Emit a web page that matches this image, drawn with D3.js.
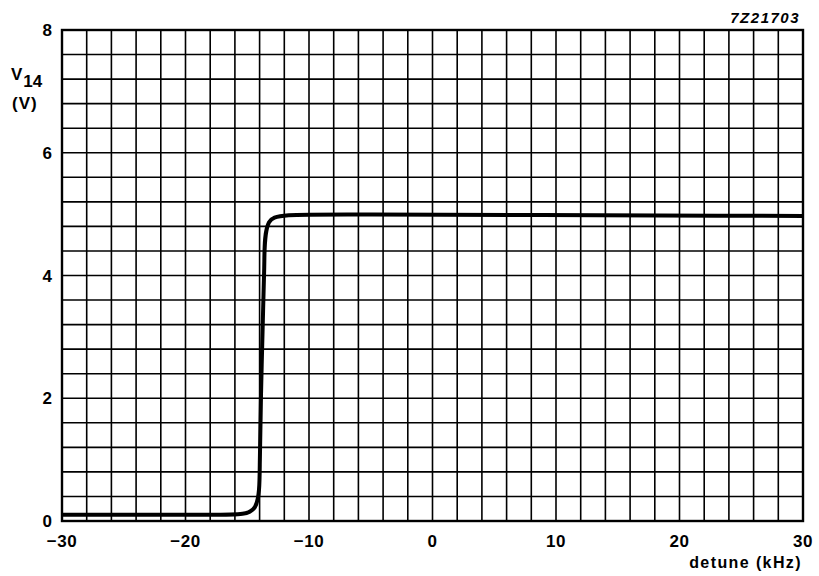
<!DOCTYPE html>
<html><head><meta charset="utf-8">
<script src="https://cdn.jsdelivr.net/npm/d3@7"></script>
<style>body{margin:0;background:#fff}svg{display:block}</style>
</head><body>
<svg id="c" width="819" height="576"></svg>
<script>
const xTicks = [-30, -20, -10, 0, 10, 20, 30];
const yTicks = [0, 2, 4, 6, 8];
const xGrid = d3.range(-30, 30.001, 2);
const yGrid = d3.range(0, 8.001, 0.4);
// curve control points (detune kHz, V14 volts)
const detune = [-30, -16.2, -14.0, -14.0, -13.9, -13.7, -13.6, -13.6, -11.4, 30];
const v14    = [0.1, 0.1, 0.1, 0.9, 2.0, 3.6, 4.2, 5.0, 5.0, 4.97];

const svg = d3.select("#c");
const m = {l: 62, r: 803, t: 30, b: 521};
const x = d3.scaleLinear().domain([-30, 30]).range([m.l, m.r]);
const y = d3.scaleLinear().domain([0, 8]).range([m.b, m.t]);
const font = "'Liberation Sans', Arial, sans-serif";

const g = svg.append("g");
g.selectAll("line.vx").data(xGrid).join("line")
  .attr("x1", d => x(d)).attr("x2", d => x(d))
  .attr("y1", m.t).attr("y2", m.b)
  .attr("stroke", "#000").attr("stroke-width", 1.6);
g.selectAll("line.hy").data(yGrid).join("line")
  .attr("x1", m.l).attr("x2", m.r)
  .attr("y1", d => y(d)).attr("y2", d => y(d))
  .attr("stroke", "#000").attr("stroke-width", 1.6);
g.append("rect").attr("x", m.l).attr("y", m.t)
  .attr("width", m.r - m.l).attr("height", m.b - m.t)
  .attr("fill", "none").attr("stroke", "#000").attr("stroke-width", 2.4);

const pts = detune.map((d, i) => [d, v14[i]]);
g.append("path").datum(pts)
  .attr("d", d3.line().x(d => x(d[0])).y(d => y(d[1])).curve(d3.curveBasis))
  .attr("fill", "none").attr("stroke", "#000").attr("stroke-width", 4)
  .attr("stroke-linejoin", "round");

const fmt = d => d < 0 ? "\u2212" + Math.abs(d) : String(d);
svg.selectAll("text.xt").data(xTicks).join("text")
  .attr("x", d => x(d)).attr("y", 547)
  .attr("text-anchor", "middle")
  .attr("font-family", font).attr("font-weight", "bold").attr("font-size", 17)
  .attr("letter-spacing", 0.5)
  .text(fmt);
svg.selectAll("text.yt").data(yTicks).join("text")
  .attr("x", 52).attr("y", d => y(d) + 6)
  .attr("text-anchor", "end")
  .attr("font-family", font).attr("font-weight", "bold").attr("font-size", 17)
  .text(d => d);

const yl = svg.append("text").attr("x", 11).attr("y", 80)
  .attr("font-family", font).attr("font-weight", "bold").attr("font-size", 17);
yl.append("tspan").text("V");
yl.append("tspan").attr("dx", 1).attr("dy", 7).text("14");
svg.append("text").attr("x", 12).attr("y", 109)
  .attr("font-family", font).attr("font-weight", "bold").attr("font-size", 17)
  .attr("letter-spacing", 1)
  .text("(V)");

svg.append("text").attr("x", 802).attr("y", 568).attr("text-anchor", "end")
  .attr("font-family", font).attr("font-weight", "bold").attr("font-size", 16)
  .attr("letter-spacing", 1.4)
  .text("detune (kHz)");
svg.append("text").attr("x", 800).attr("y", 23).attr("text-anchor", "end")
  .attr("font-family", font).attr("font-weight", "bold").attr("font-style", "italic").attr("font-size", 15)
  .attr("letter-spacing", 1.5)
  .text("7Z21703");
</script>
</body></html>
